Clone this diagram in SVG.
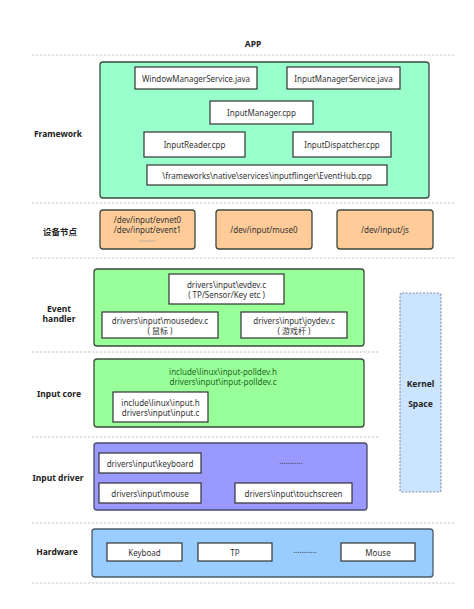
<svg xmlns="http://www.w3.org/2000/svg" width="474" height="609" viewBox="0 0 474 609">
<style>
text{font-family:"Noto Sans","Noto Sans CJK SC",sans-serif;font-size:8px;fill:#333;text-anchor:middle;dominant-baseline:central}
.lbl{font-weight:bold;font-size:8.5px;fill:#222}
.grp{stroke:#3c4a3c;stroke-width:1.3}
.box{fill:#fff;stroke:#333;stroke-width:1.2}
.sep{stroke:#bdbdbd;stroke-width:0.8;stroke-dasharray:2.5,1.5;fill:none}
.green{fill:#1d6b1d}
</style>
<rect width="474" height="609" fill="#fff"/>
<g id="separators">
<line class="sep" x1="32" y1="55" x2="455" y2="55"/>
<line class="sep" x1="32" y1="203" x2="455" y2="203"/>
<line class="sep" x1="32" y1="258" x2="455" y2="258" style="stroke:#c9b8d6"/>
<line class="sep" x1="32" y1="352" x2="380" y2="352"/>
<line class="sep" x1="32" y1="437" x2="380" y2="437"/>
<line class="sep" x1="32" y1="523" x2="455" y2="523"/>
<line class="sep" x1="32" y1="583" x2="455" y2="583"/>
</g>
<g id="labels">
<text class="lbl" x="253" y="43">APP</text>
<text class="lbl" x="58" y="133">Framework</text>
<text class="lbl" x="60" y="231">设备节点</text>
<text class="lbl" x="59" y="308">Event</text>
<text class="lbl" x="59" y="318">handler</text>
<text class="lbl" x="59" y="393">Input core</text>
<text class="lbl" x="58" y="477">Input driver</text>
<text class="lbl" x="57" y="551">Hardware</text>
</g>
<g id="framework">
<rect class="grp" x="100" y="62" width="329" height="136" rx="3" fill="#99ffcc"/>
<g id="wms"><rect class="box" x="135" y="67" width="122" height="22"/><text x="196" y="78">WindowManagerService.java</text></g>
<g id="ims"><rect class="box" x="287" y="67" width="113" height="22"/><text x="343.5" y="78">InputManagerService.java</text></g>
<g id="im"><rect class="box" x="210" y="101" width="103" height="23"/><text x="261.5" y="112.5">InputManager.cpp</text></g>
<g id="ir"><rect class="box" x="144" y="132" width="101" height="25"/><text x="194.5" y="144.5">InputReader.cpp</text></g>
<g id="id"><rect class="box" x="293" y="132" width="98" height="25"/><text x="342" y="144.5">InputDispatcher.cpp</text></g>
<g id="eh"><rect class="box" x="147" y="165" width="240" height="20"/><text x="267" y="175">\frameworks\native\services\inputflinger\EventHub.cpp</text></g>
</g>
<g id="devnodes">
<g id="dev1"><rect class="grp" x="100" y="210" width="95" height="39" rx="3" fill="#ffcc99"/><text x="147.5" y="219">/dev/input/evnet0</text><text x="147.5" y="229">/dev/input/event1</text><line x1="139" y1="241" x2="156" y2="241" stroke="#999" stroke-width="0.6"/></g>
<g id="dev2"><rect class="grp" x="216" y="210" width="96" height="39" rx="3" fill="#ffcc99"/><text x="264" y="229.5">/dev/input/muse0</text></g>
<g id="dev3"><rect class="grp" x="337" y="210" width="96" height="39" rx="3" fill="#ffcc99"/><text x="385" y="229.5">/dev/input/js</text></g>
</g>
<g id="eventhandler">
<rect class="grp" x="94" y="269" width="270" height="77" rx="3" fill="#99ff99"/>
<g id="evdev"><rect class="box" x="169" y="274" width="115" height="30"/><text x="226.5" y="284">drivers\input\evdev.c</text><text x="226.5" y="294">( TP/Sensor/Key etc )</text></g>
<g id="mousedev"><rect class="box" x="102" y="312" width="116" height="26"/><text x="160" y="320">drivers\input\mousedev.c</text><text x="160" y="330">( 鼠标 )</text></g>
<g id="joydev"><rect class="box" x="241" y="312" width="106" height="26"/><text x="294" y="320">drivers\input\joydev.c</text><text x="294" y="330">( 游戏杆 )</text></g>
</g>
<g id="kernel">
<rect x="400" y="293" width="41" height="199" rx="2" fill="#cce5ff" stroke="#8894a8" stroke-width="1.2" stroke-dasharray="2,1.5"/>
<text class="lbl" x="420.5" y="383">Kernel</text>
<text class="lbl" x="420.5" y="403">Space</text>
</g>
<g id="inputcore">
<rect class="grp" x="94" y="359" width="270" height="68" rx="3" fill="#99ff99"/>
<text class="green" x="223" y="371">include\linux\input-polldev.h</text>
<text class="green" x="223" y="381">drivers\input\input-polldev.c</text>
<g id="inputc"><rect class="box" x="113" y="392" width="95" height="30"/><text x="160.5" y="402">include\linux\input.h</text><text x="160.5" y="412">drivers\input\input.c</text></g>
</g>
<g id="inputdriver">
<rect class="grp" x="94" y="443" width="273" height="67" rx="3" fill="#9999ff" style="stroke:#4a4a6a"/>
<g id="kbd"><rect class="box" x="99" y="453" width="102" height="20"/><text x="150" y="463">drivers\input\keyboard</text></g>
<text x="291" y="460">...........</text>
<g id="mouse"><rect class="box" x="99" y="483" width="102" height="20"/><text x="150" y="493">drivers\input\mouse</text></g>
<g id="ts"><rect class="box" x="235" y="483" width="117" height="20"/><text x="293.5" y="493">drivers\input\touchscreen</text></g>
</g>
<g id="hardware">
<rect class="grp" x="92" y="529" width="341" height="48" rx="3" fill="#99ccff" style="stroke:#4a5a6a"/>
<g id="hkbd"><rect class="box" x="107" y="543" width="75" height="18"/><text x="144.5" y="552">Keyboad</text></g>
<g id="htp"><rect class="box" x="198" y="543" width="74" height="18"/><text x="235" y="552">TP</text></g>
<text x="305" y="549">...........</text>
<g id="hmouse"><rect class="box" x="341" y="543" width="74" height="18"/><text x="378" y="552">Mouse</text></g>
</g>
<g id="connectors"></g>
</svg>
